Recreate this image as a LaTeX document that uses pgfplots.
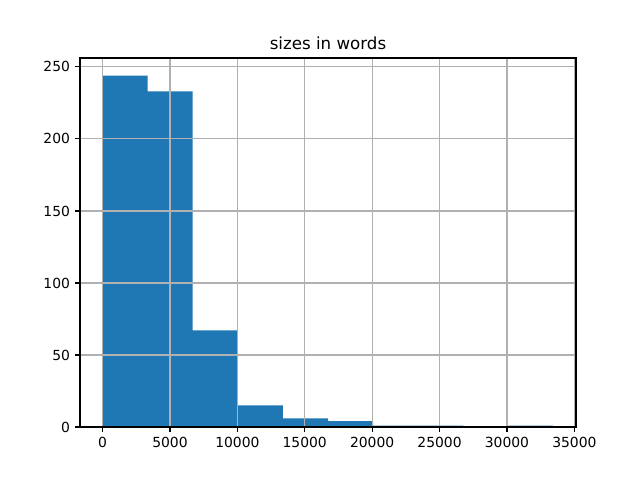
\documentclass[border=0pt]{standalone}
\usepackage{pgfplots}
\pgfplotsset{compat=1.18}
\usepackage{fontspec}
\setmainfont{DejaVu Sans}
\definecolor{mplblue}{HTML}{1F77B4}
\definecolor{mplgrid}{HTML}{B0B0B0}
\begin{document}
\begin{tikzpicture}
\path (0,0) rectangle (460.8pt,345.6pt);
\begin{axis}[
  at={(57.6pt,38.16pt)}, anchor=south west,
  scale only axis, width=357.12pt, height=265.68pt,
  xmin=-1672.5, xmax=35122.5, ymin=0, ymax=256.2,
  xtick={0,5000,...,35000}, ytick={0,50,...,250},
  xtick pos=bottom, ytick pos=left,
  /pgf/number format/assume math mode=true,
  /pgf/number format/set thousands separator={},
  scaled ticks=false,
  tick align=outside, major tick length=3.5pt,
  tick style={black, line width=0.8pt},
  axis line style={line width=0.8pt},
  grid=major, major grid style={mplgrid, line width=0.8pt},
  axis on top,
  ticklabel style={font=\fontsize{10}{12}\selectfont},
  xticklabel style={inner sep=0pt, yshift=-3.5pt},
  yticklabel style={inner sep=0pt, xshift=-3.5pt},
  title={sizes in words},
  title style={at={(0.5,1)}, anchor=base, yshift=0pt, inner sep=0pt, font=\fontsize{12}{14}\selectfont},
]
\addplot[ybar interval, fill=mplblue, draw=none] coordinates {
(0,244) (3345,233) (6690,67) (10035,15) (13380,6) (16725,4) (20070,1) (23415,1) (26760,0) (30105,1) (33450,1)
};
\end{axis}
\end{tikzpicture}
\end{document}
